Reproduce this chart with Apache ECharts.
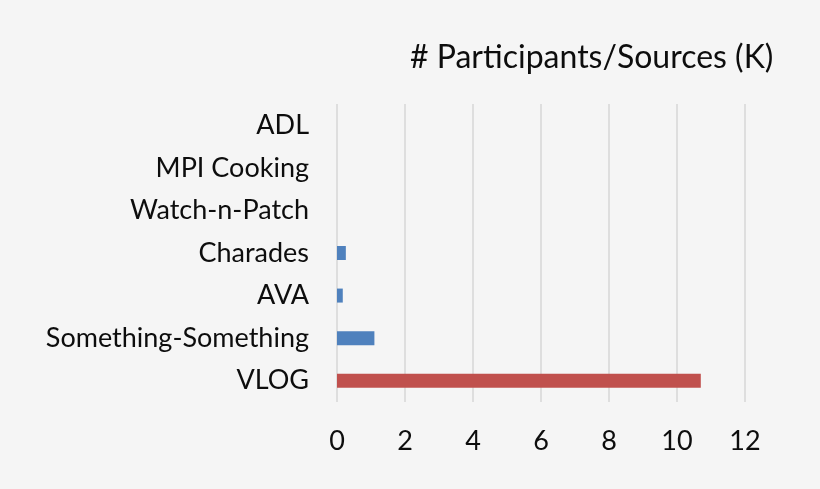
<!DOCTYPE html>
<html>
<head>
<meta charset="UTF-8">
<title>Participants</title>
<script src="https://cdn.jsdelivr.net/npm/echarts@6/dist/echarts.min.js"></script>
<style>
  * { margin: 0; padding: 0; }
  body { background: #f5f5f5; }
  #main { width: 820px; height: 489px; }
</style>
</head>
<body>
<div id="main"></div>
<script>
// datasets, top to bottom
var datasets = ['ADL', 'MPI Cooking', 'Watch-n-Patch', 'Charades', 'AVA', 'Something-Something', 'VLOG'];
// thousands of participants / sources
var participants = [0, 0, 0, 0.26, 0.17, 1.1, 10.7];
var xTicks = [0, 2, 4, 6, 8, 10, 12];

var ours = 'VLOG';
var blue = '#4f81bd', red = '#c0504d';
var font = 'Lato';

var chart = echarts.init(document.getElementById('main'));

var option = {
  backgroundColor: '#f5f5f5',
  animation: false,
  title: {
    text: '# Participants/Sources (K)',
    left: 405,
    top: 37,
    textStyle: { fontFamily: font, fontSize: 32, fontWeight: 'normal', color: '#0d0d0d' }
  },
  grid: { left: 337, right: 75, top: 104, bottom: 87, containLabel: false },
  xAxis: {
    type: 'value',
    min: xTicks[0],
    max: xTicks[xTicks.length - 1],
    interval: 2,
    axisLine: { show: false },
    axisTick: { show: false },
    splitLine: { show: true, lineStyle: { color: '#d6d6d6', width: 1.5 } },
    axisLabel: { margin: 26, fontFamily: font, fontSize: 27, color: '#0d0d0d' }
  },
  yAxis: {
    type: 'category',
    inverse: true,
    data: datasets,
    axisLine: { show: false },
    axisTick: { show: false },
    axisLabel: { margin: 28, fontFamily: font, fontSize: 27, color: '#0d0d0d' }
  },
  series: [{
    type: 'bar',
    barWidth: 14,
    data: participants,
    itemStyle: {
      color: function (p) { return datasets[p.dataIndex] === ours ? red : blue; }
    }
  }]
};
chart.setOption(option);
</script>
</body>
</html>
